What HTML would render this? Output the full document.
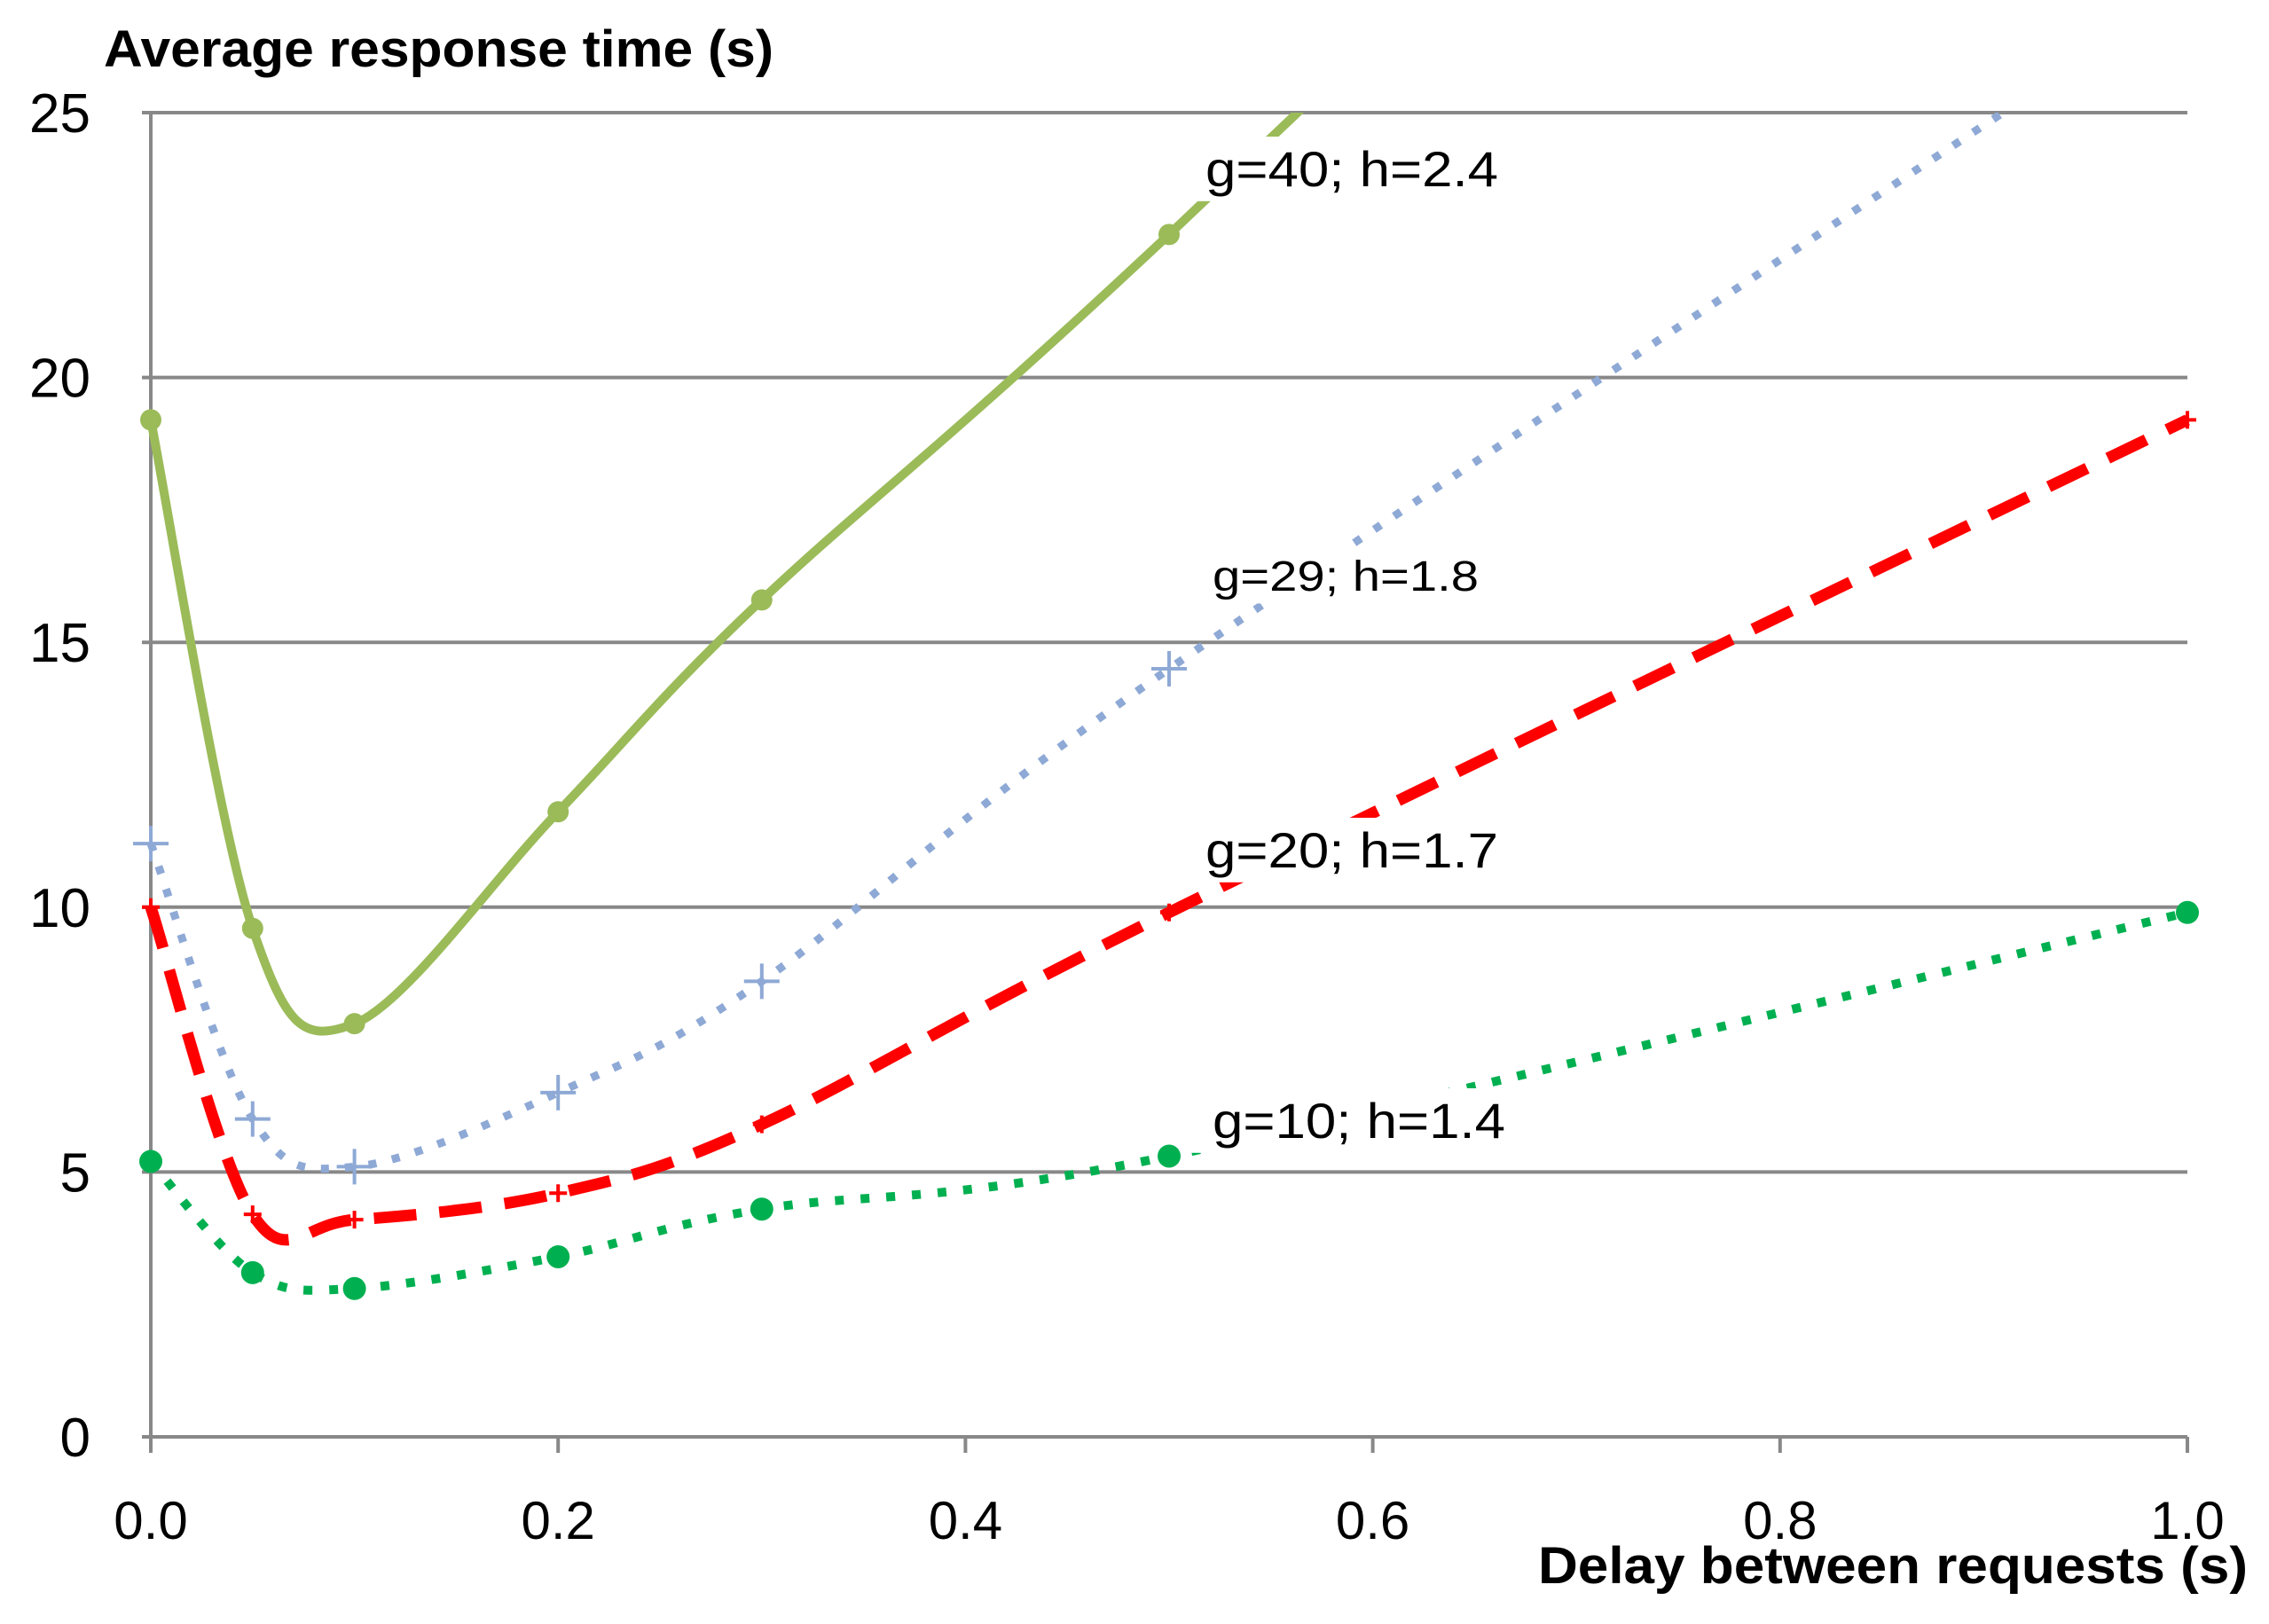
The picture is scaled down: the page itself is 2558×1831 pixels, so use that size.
<!DOCTYPE html>
<html><head><meta charset="utf-8"><style>
html,body{margin:0;padding:0;background:#fff;}
svg{display:block;}
text{font-family:"Liberation Sans",sans-serif;fill:#000;}
</style></head><body>
<svg id="chart" width="2558" height="1831" viewBox="0 0 2558 1831" xmlns="http://www.w3.org/2000/svg">
<g id="grid"></g>
<g id="axes"></g>
<g id="series"></g>
<g id="labels"></g>
<text x="117" y="75" font-size="58" font-weight="bold" textLength="755" lengthAdjust="spacingAndGlyphs">Average response time (s)</text>
<text x="1734" y="1785" font-size="58" font-weight="bold" textLength="800" lengthAdjust="spacingAndGlyphs">Delay between requests (s)</text>
</svg>
<script>
const xTicks = [0, 0.2, 0.4, 0.6, 0.8, 1.0];
const xTickLabels = ["0.0", "0.2", "0.4", "0.6", "0.8", "1.0"];
const yTicks = [0, 5, 10, 15, 20, 25];
const yTickLabels = ["0", "5", "10", "15", "20", "25"];
const delays = [0, 0.05, 0.1, 0.2, 0.3, 0.5, 1.0];
const g40 = [19.2, 9.6, 7.8, 11.8, 15.8, 22.7, 41.0];
const g29 = [11.2, 6.0, 5.1, 6.5, 8.6, 14.5, 27.3];
const g20 = [10.0, 4.2, 4.1, 4.6, 5.9, 9.9, 19.2];
const g10 = [5.2, 3.1, 2.8, 3.4, 4.3, 5.3, 9.9];
const seriesNames = ["g=40; h=2.4", "g=29; h=1.8", "g=20; h=1.7", "g=10; h=1.4"];

const NS = "http://www.w3.org/2000/svg";
const X0 = 170, X1 = 2466, Y0 = 1620, Y1 = 127;
const xs = v => X0 + (X1 - X0) * v / 1.0;
const ys = v => Y0 - (Y0 - Y1) * v / 25;
function mk(tag, attrs, parent) {
  const e = document.createElementNS(NS, tag);
  for (const k in attrs) e.setAttribute(k, attrs[k]);
  parent.appendChild(e);
  return e;
}
const grid = document.getElementById('grid');
const axes = document.getElementById('axes');
const series = document.getElementById('series');
const labels = document.getElementById('labels');

yTicks.forEach((t, i) => {
  if (t > 0) {
    const l = mk('line', {x1: X0 - 10, x2: X1, y1: ys(t), y2: ys(t), stroke: '#888', 'stroke-width': 4}, grid);
    
    
  }
  const tx = mk('text', {x: 102, y: ys(t) + 22, 'font-size': 62, 'text-anchor': 'end'}, axes);
  tx.textContent = yTickLabels[i];
  
  
});
const ax = mk('line', {x1: X0 - 10, x2: X1, y1: Y0, y2: Y0, stroke: '#888', 'stroke-width': 4}, axes);


const ay = mk('line', {x1: X0, x2: X0, y1: Y1, y2: Y0, stroke: '#888', 'stroke-width': 4}, axes);


xTicks.forEach((t, i) => {
  const tk = mk('line', {x1: xs(t), x2: xs(t), y1: Y0, y2: Y0 + 18, stroke: '#888', 'stroke-width': 4}, axes);
  
  
  const tx = mk('text', {x: xs(t), y: 1735, 'font-size': 60, 'text-anchor': 'middle'}, axes);
  tx.textContent = xTickLabels[i];
  
  
});

function smoothPath(vals) {
  const p = delays.map((d, i) => [xs(d), ys(vals[i])]);
  let s = 'M' + p[0][0] + ',' + p[0][1];
  for (let i = 0; i < p.length - 1; i++) {
    const p0 = p[Math.max(0, i - 1)], p1 = p[i], p2 = p[i + 1], p3 = p[Math.min(p.length - 1, i + 2)];
    const c1 = [p1[0] + (p2[0] - p0[0]) / 6, p1[1] + (p2[1] - p0[1]) / 6];
    const c2 = [p2[0] - (p3[0] - p1[0]) / 6, p2[1] - (p3[1] - p1[1]) / 6];
    s += ' C' + c1 + ' ' + c2 + ' ' + p2;
  }
  return s;
}
mk('clipPath', {id: 'plotclip'}, document.getElementById('chart'));
mk('rect', {x: 0, y: Y1, width: 2558, height: Y0 - Y1 + 40}, document.getElementById('plotclip'));
series.setAttribute('clip-path', 'url(#plotclip)');

const defs = [
  {vals: g40, color: '#9bbb59', w: 10, dash: '', marker: 'dot', r: 12, name: 'series-g40'},
  {vals: g29, color: '#8ea9d5', w: 9, dash: '9 18', marker: 'plus', r: 20, name: 'series-g29'},
  {vals: g20, color: '#ff0000', w: 13, dash: '48 26', marker: 'plus', r: 10, name: 'series-g20'},
  {vals: g10, color: '#00b050', w: 10, dash: '10 19', marker: 'dot', r: 13, name: 'series-g10'}
];
defs.forEach(d => {
  const g = mk('g', {}, series);
  
  
  const path = mk('path', {d: smoothPath(d.vals), fill: 'none', stroke: d.color, 'stroke-width': d.w, 'stroke-dasharray': d.dash}, g);
  
  
  delays.forEach((x, i) => {
    const cx = xs(x), cy = ys(d.vals[i]);
    if (d.marker === 'dot') {
      const c = mk('circle', {cx: cx, cy: cy, r: d.r, fill: d.color}, g);
      
      
    } else {
      const m = mk('path', {d: `M${cx - d.r},${cy} H${cx + d.r} M${cx},${cy - d.r} V${cy + d.r}`, stroke: d.color, 'stroke-width': 4}, g);
      
      
    }
  });
});

const labelPos = [[1359, 210, 56], [1367, 666, 48], [1359, 978, 56], [1367, 1283, 56]];
const labelW = [330, 300, 330, 330];
seriesNames.forEach((n, i) => {
  const [x, y, fs] = labelPos[i];
  const bg = mk('rect', {x: x - 30, y: y - fs, width: labelW[i] + 60, height: fs * 1.3, fill: '#fff'}, labels);
  
  
  const t = mk('text', {x: x, y: y, 'font-size': fs, textLength: labelW[i], lengthAdjust: 'spacingAndGlyphs'}, labels);
  t.textContent = n;
  
  
});
</script>
</body></html>
